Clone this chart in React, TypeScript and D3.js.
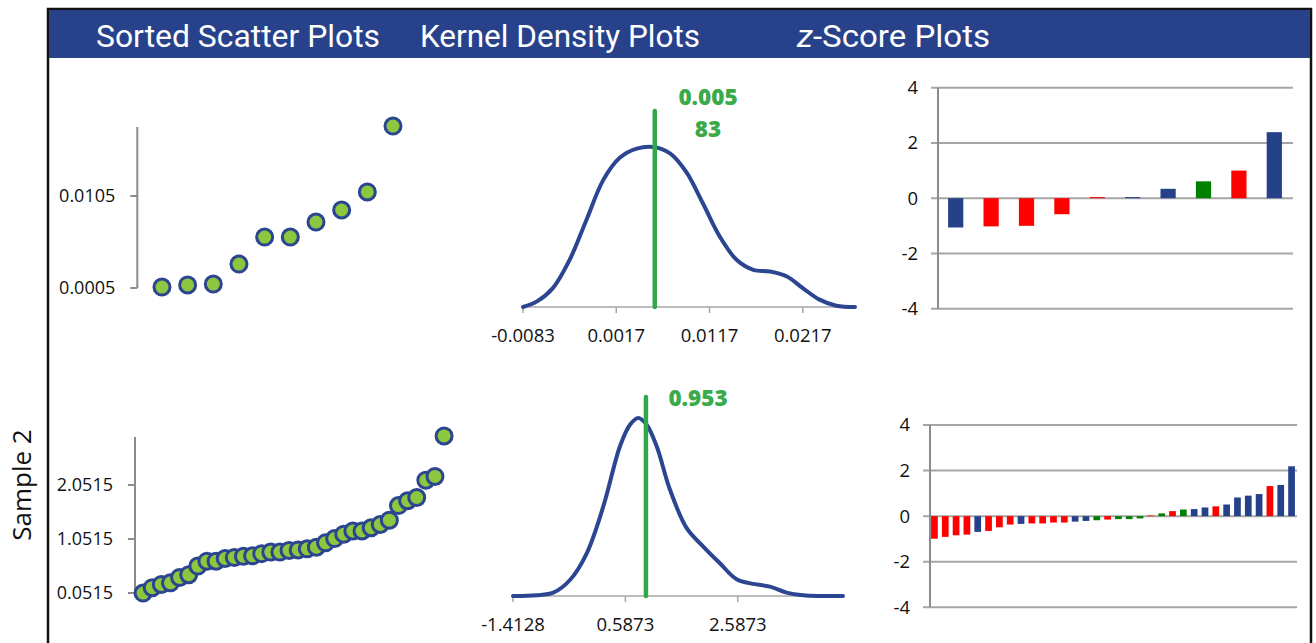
import React from 'react';
import * as d3 from 'd3';

// sample 1 (sorted values)
const sample1 = [0.0006, 0.00083, 0.00093, 0.0031, 0.00604, 0.00604, 0.00767, 0.00898, 0.01094, 0.0181];
const sample1Ticks = [0.0005, 0.0105];
const sample1TickLabels = ['0.0005', '0.0105'];

// sample 2 (sorted values)
const sample2 = [
  0.05, 0.15, 0.21, 0.24, 0.34, 0.39, 0.55, 0.64, 0.64, 0.69, 0.71, 0.73, 0.74, 0.78, 0.81, 0.81, 0.84,
  0.85, 0.87, 0.9, 0.98, 1.06, 1.14, 1.2, 1.2, 1.26, 1.32, 1.4, 1.67, 1.76, 1.82, 2.14, 2.21, 2.96,
];
const sample2Ticks = [0.0515, 1.0515, 2.0515];
const sample2TickLabels = ['0.0515', '1.0515', '2.0515'];

// kernel density curves (x value, relative density)
const kde1X = [-0.0083, -0.0068, -0.0051, -0.0033, -0.0015, 0.0003, 0.0021, 0.0039, 0.0057, 0.0075, 0.0092,
  0.011, 0.0128, 0.0146, 0.0164, 0.0182, 0.02, 0.0217, 0.0235, 0.0253, 0.0273];
const kde1Y = [0, 0.035, 0.118, 0.295, 0.544, 0.793, 0.934, 0.99, 1.0, 0.959, 0.844, 0.647, 0.44, 0.295,
  0.232, 0.222, 0.191, 0.118, 0.046, 0.008, 0];
const kde1Ticks = [-0.0083, 0.0017, 0.0117, 0.0217];
const kde1TickLabels = ['-0.0083', '0.0017', '0.0117', '0.0217'];
const kde1Mean = 0.00583;
const kde1MeanLabel = ['0.005', '83'];

const kde2X = [-1.4128, -0.991, -0.696, -0.399, -0.101, 0.194, 0.491, 0.669, 0.817, 0.966, 1.144, 1.381,
  1.678, 1.973, 2.27, 2.567, 2.863, 3.16, 3.457, 3.753, 4.05, 4.46];
const kde2Y = [0, 0.004, 0.019, 0.09, 0.24, 0.503, 0.841, 0.962, 1.0, 0.962, 0.841, 0.597, 0.381, 0.278,
  0.184, 0.094, 0.068, 0.053, 0.019, 0.004, 0, 0];
const kde2Ticks = [-1.4128, 0.5873, 2.5873];
const kde2TickLabels = ['-1.4128', '0.5873', '2.5873'];
const kde2Mean = 0.953;
const kde2MeanLabel = ['0.953'];

// z-scores
const z1 = [-1.06, -1.02, -1.0, -0.58, 0.04, 0.04, 0.34, 0.61, 1.0, 2.39];
const z1Colors = ['b', 'r', 'r', 'r', 'r', 'b', 'b', 'g', 'r', 'b'];
const z2 = [
  -0.99, -0.91, -0.84, -0.81, -0.69, -0.65, -0.49, -0.37, -0.34, -0.32, -0.32, -0.28, -0.28, -0.24, -0.21,
  -0.18, -0.15, -0.13, -0.13, -0.1, 0.03, 0.12, 0.22, 0.29, 0.31, 0.38, 0.43, 0.51, 0.82, 0.9, 0.97, 1.32,
  1.37, 2.19,
];
const z2Colors = ['r', 'r', 'r', 'r', 'b', 'r', 'r', 'r', 'b', 'r', 'r', 'r', 'r', 'b', 'b', 'g', 'r', 'g',
  'g', 'g', 'r', 'g', 'r', 'g', 'b', 'b', 'r', 'b', 'b', 'b', 'b', 'r', 'b', 'b'];
const zTicks = [4, 2, 0, -2, -4];

const NAVY = '#27428a';
const GREEN = '#2ea84a';
const AXIS = '#8c8c8c';
const GRID = '#a6a6a6';
const LABEL_FONT = '"Open Sans", sans-serif';
const barColor: Record<string, string> = { b: '#25418a', r: '#ff0000', g: '#008000' };

interface ScatterProps {
  values: number[];
  x0: number; step: number;
  yDomain: [number, number]; yRange: [number, number];
  ticks: number[]; tickLabels: string[];
}

const Scatter: React.FC<ScatterProps> = ({ values, x0, step, yDomain, yRange, ticks, tickLabels }) => {
  const x = d3.scaleLinear().domain([0, 1]).range([x0, x0 + step]);
  const y = d3.scaleLinear().domain(yDomain).range(yRange);
  return (
    <g>
      <line x1={x0 + 1} x2={x0 + 1} y1={y(yDomain[0])} y2={y(yDomain[1])} stroke={AXIS} strokeWidth={2} />
      {ticks.map((t, i) => (
        <g key={i}>
          <line x1={x0 - 6} x2={x0 + 1} y1={y(t)} y2={y(t)} stroke={AXIS} strokeWidth={2} />
          <text x={x0 - 21} y={y(t)} dy="0.35em" textAnchor="end" fontFamily={LABEL_FONT} fontSize={18} fill="#111">
            {tickLabels[i]}
          </text>
        </g>
      ))}
      {values.map((v, i) => (
        <circle key={i} cx={x(i + 1)} cy={y(v)} r={8} fill="#8dc63f" stroke="#2b4590" strokeWidth={3} />
      ))}
    </g>
  );
};

interface KdeProps {
  xs: number[]; ys: number[];
  xDomain: [number, number]; xRange: [number, number];
  baseY: number; peakY: number;
  ticks: number[]; tickLabels: string[];
  mean: number; lineTop: number;
  meanLabel: string[]; labelX: number; labelY: number;
}

const Kde: React.FC<KdeProps> = ({ xs, ys, xDomain, xRange, baseY, peakY, ticks, tickLabels, mean, lineTop, meanLabel, labelX, labelY }) => {
  const x = d3.scaleLinear().domain(xDomain).range(xRange);
  const y = d3.scaleLinear().domain([0, 1]).range([baseY, peakY]);
  const line = d3.line<number>()
    .x((_, i) => x(xs[i]))
    .y((d) => y(d))
    .curve(d3.curveCatmullRom.alpha(0.5));
  return (
    <g>
      <line x1={xRange[0]} x2={xRange[1]} y1={baseY} y2={baseY} stroke={GRID} strokeWidth={1.5} />
      {ticks.map((t, i) => (
        <g key={i}>
          <line x1={x(t)} x2={x(t)} y1={baseY} y2={baseY + 6} stroke={GRID} strokeWidth={1.5} />
          <text x={x(t)} y={baseY + 35} textAnchor="middle" fontFamily={LABEL_FONT} fontSize={18.5} fill="#111">
            {tickLabels[i]}
          </text>
        </g>
      ))}
      <path d={line(ys) || ''} fill="none" stroke="#2b4590" strokeWidth={4} strokeLinecap="round" />
      <line x1={x(mean)} x2={x(mean)} y1={lineTop} y2={baseY} stroke={GREEN} strokeWidth={4.5} strokeLinecap="round" />
      <text textAnchor="middle" fontFamily={LABEL_FONT} fontWeight={800} fontSize={22.5} fill="#3aaa4a">
        {meanLabel.map((s, i) => (
          <tspan key={i} x={labelX} y={labelY + i * 32}>{s}</tspan>
        ))}
      </text>
    </g>
  );
};

interface ZProps {
  values: number[]; colors: string[];
  axisX: number; gridX1: number; gridX2: number;
  yRange: [number, number];
  padInner: number; padOuter: number;
}

const ZBars: React.FC<ZProps> = ({ values, colors, axisX, gridX1, gridX2, yRange, padInner, padOuter }) => {
  const y = d3.scaleLinear().domain([-4, 4]).range(yRange);
  const x = d3.scaleBand<number>()
    .domain(values.map((_, i) => i))
    .range([axisX, gridX2 - 1])
    .paddingInner(padInner)
    .paddingOuter(padOuter);
  return (
    <g>
      {zTicks.map((t) => (
        <g key={t}>
          <line x1={gridX1} x2={gridX2} y1={y(t)} y2={y(t)} stroke={GRID} strokeWidth={2} />
          <text x={gridX1 - 13} y={y(t)} dy="0.35em" textAnchor="end" fontFamily={LABEL_FONT} fontSize={18.5} fill="#111">
            {t}
          </text>
        </g>
      ))}
      {values.map((v, i) => (
        <rect key={i} x={x(i)} width={x.bandwidth()} y={y(Math.max(0, v))}
          height={Math.abs(y(v) - y(0))} fill={barColor[colors[i]]} />
      ))}
      <line x1={axisX} x2={axisX} y1={y(4)} y2={y(-4)} stroke={AXIS} strokeWidth={2} />
    </g>
  );
};

const App: React.FC = () => {
  return (
    <svg width={1316} height={643} style={{ position: 'absolute', left: 0, top: 0, background: '#fff' }}>
      <rect x={48} y={9} width={1263} height={660} fill="#fff" stroke="#111" strokeWidth={2.5} />
      <rect x={49} y={10} width={1261} height={48} fill={NAVY} />
      <g fontFamily="Roboto, sans-serif" fontSize={32} fill="#fff">
        <text x={96} y={47} textLength={284} lengthAdjust="spacingAndGlyphs">Sorted Scatter Plots</text>
        <text x={420} y={47} textLength={280} lengthAdjust="spacingAndGlyphs">Kernel Density Plots</text>
        <text x={797} y={47} textLength={193} lengthAdjust="spacingAndGlyphs">
          <tspan fontStyle="italic">z</tspan>-Score Plots
        </text>
      </g>
      <text transform="translate(22,485) rotate(-90)" textAnchor="middle" dy="0.35em"
        fontFamily={LABEL_FONT} fontSize={26} fill="#111">Sample 2</text>

      <Scatter values={sample1} x0={136.3} step={25.67} yDomain={[0.0005, 0.018]} yRange={[288, 127]}
        ticks={sample1Ticks} tickLabels={sample1TickLabels} />
      <Scatter values={sample2} x0={134} step={9.12} yDomain={[0.0515, 2.94]} yRange={[593, 437]}
        ticks={sample2Ticks} tickLabels={sample2TickLabels} />

      <Kde xs={kde1X} ys={kde1Y} xDomain={[-0.0083, 0.0273]} xRange={[523, 855]} baseY={307} peakY={147}
        ticks={kde1Ticks} tickLabels={kde1TickLabels} mean={kde1Mean} lineTop={111}
        meanLabel={kde1MeanLabel} labelX={708} labelY={105} />
      <Kde xs={kde2X} ys={kde2Y} xDomain={[-1.4128, 4.46]} xRange={[513, 843]} baseY={596} peakY={418}
        ticks={kde2Ticks} tickLabels={kde2TickLabels} mean={kde2Mean} lineTop={397}
        meanLabel={kde2MeanLabel} labelX={698} labelY={406} />

      <ZBars values={z1} colors={z1Colors} axisX={938} gridX1={931} gridX2={1293} yRange={[308.7, 87.7]}
        padInner={0.57} padOuter={0.285} />
      <ZBars values={z2} colors={z2Colors} axisX={930} gridX1={923} gridX2={1297} yRange={[607.3, 425]}
        padInner={0.38} padOuter={0.1} />
    </svg>
  );
};

export default App;
